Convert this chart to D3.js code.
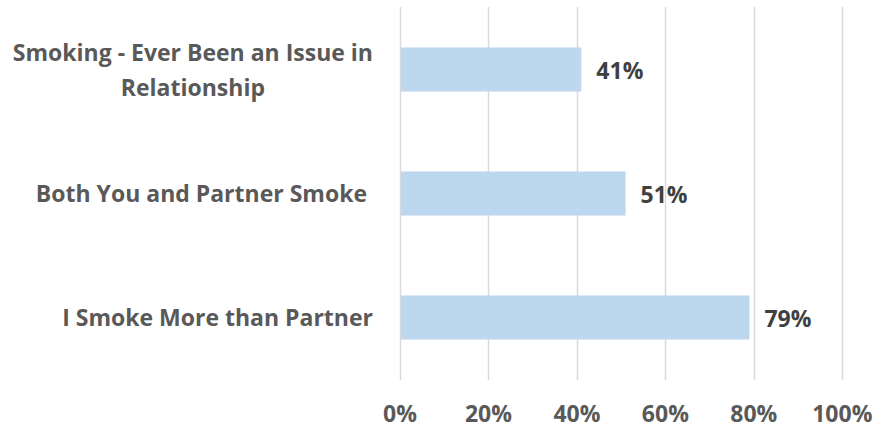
<!DOCTYPE html>
<html>
<head>
<meta charset="utf-8">
<script src="https://cdn.jsdelivr.net/npm/d3@7"></script>
<style>
  html, body { margin: 0; padding: 0; background: #fff; }
  svg { display: block; }
  text { font-family: "Open Sans", "Liberation Sans", sans-serif; font-weight: 700; white-space: pre; }
</style>
</head>
<body>
<svg id="chart" width="890" height="430"></svg>
<script>
// Survey results: share of respondents per statement
const categories = [
  ["Smoking - Ever Been an Issue in", "Relationship"],
  ["Both You and Partner Smoke "],
  ["I Smoke More than Partner"]
];
const values = [0.41, 0.51, 0.79];
const tickValues = [0, 0.2, 0.4, 0.6, 0.8, 1.0];

const svg = d3.select("#chart");
const x = d3.scaleLinear().domain([0, 1]).range([400, 842.3]);
const y = d3.scaleBand()
  .domain(d3.range(categories.length))
  .range([7.5, 379.5])
  .paddingInner(0.645)
  .paddingOuter(0.3225);

const fmt = d3.format(".0%");
const fontSize = 23;

// vertical gridlines
svg.append("g")
  .selectAll("line")
  .data(tickValues)
  .join("line")
  .attr("x1", d => Math.round(x(d)) + 0.5)
  .attr("x2", d => Math.round(x(d)) + 0.5)
  .attr("y1", 7)
  .attr("y2", 380)
  .attr("stroke", "#d9d9d9")
  .attr("stroke-width", 1.5);

// x axis tick labels
svg.append("g")
  .selectAll("text")
  .data(tickValues)
  .join("text")
  .attr("x", d => x(d))
  .attr("y", 422)
  .attr("text-anchor", "middle")
  .attr("font-size", fontSize)
  .attr("fill", "#595959")
  .text(d => fmt(d));

// bars
svg.append("g")
  .selectAll("rect")
  .data(values)
  .join("rect")
  .attr("x", x(0) + 1)
  .attr("y", (d, i) => y(i))
  .attr("width", d => x(d) - x(0) - 1)
  .attr("height", y.bandwidth())
  .attr("fill", "#bdd7ee");

// value labels
svg.append("g")
  .selectAll("text")
  .data(values)
  .join("text")
  .attr("x", d => x(d) + 15)
  .attr("y", (d, i) => y(i) + y.bandwidth() / 2 + 9)
  .attr("font-size", fontSize)
  .attr("fill", "#404040")
  .text(d => fmt(d));

// category labels (multi-line ones are centred within the right-aligned block)
const lineH = 35;
const labelRight = 373;
const cat = svg.append("g");
categories.forEach((lines, i) => {
  const cy = y(i) + y.bandwidth() / 2;
  const t = cat.append("text")
    .attr("font-size", fontSize)
    .attr("fill", "#595959");
  const spans = lines.map((s, k) => t.append("tspan")
    .attr("y", cy + 8.5 + (k - (lines.length - 1) / 2) * lineH)
    .text(s));
  const widths = spans.map(sp => sp.node().getComputedTextLength());
  const maxW = d3.max(widths);
  const centre = labelRight - maxW / 2;
  spans.forEach(sp => sp.attr("x", centre).attr("text-anchor", "middle"));
});
</script>
</body>
</html>
